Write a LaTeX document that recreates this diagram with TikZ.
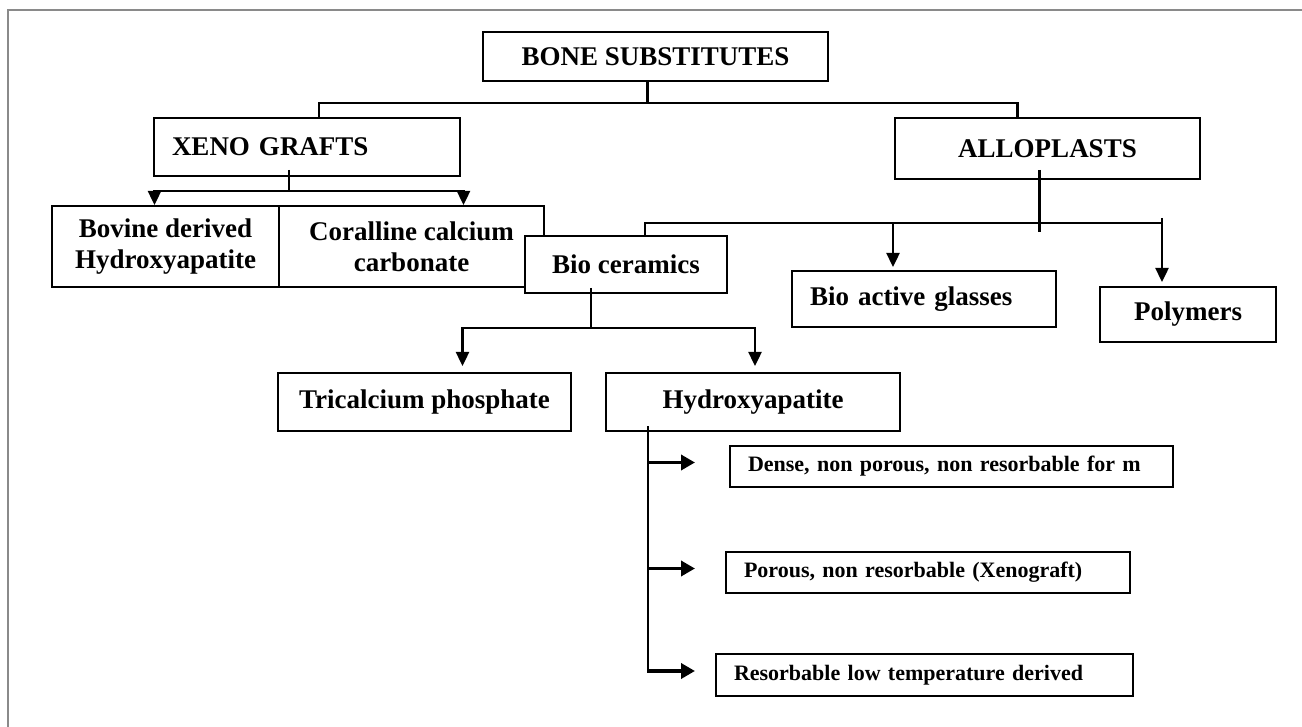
\documentclass[tikz,border=0pt]{standalone}
\usepackage{fontspec}
\setmainfont{Liberation Serif}
\usetikzlibrary{arrows.meta, positioning, calc}
\definecolor{colorMarco}{HTML}{8A8A8A}

\begin{document}
\begin{tikzpicture}[
        x=0.5pt, y=-0.5pt,
        caja/.style={draw, line width=1pt, fill=white, align=center, inner sep=0pt,
            font=\bfseries\fontsize{13.5}{15.5}\selectfont},
        chica/.style={font=\bfseries\fontsize{11}{13}\selectfont},
        izq/.style={text width=#1, align=left, inner xsep=9pt},
        lin/.style={line width=1.2pt},
        fle/.style={line width=1.2pt, -{Triangle[length=7pt, width=6.5pt]}},
        fleh/.style={line width=1.8pt, -{Triangle[length=7pt, width=7.5pt]}}
    ]
    \useasboundingbox (0,0) rectangle (1302,727);
    \draw[colorMarco, line width=1pt] (8,727) -- (8,10) -- (1302,10);

    \node[caja, minimum width=172.5pt, minimum height=24.5pt] (bone) at (655.5,56.5) {BONE SUBSTITUTES};
    \node[caja, izq=135pt, minimum height=29pt] (xeno) at (307,147) {XENO GRAFTS};
    \node[caja, minimum width=152.5pt, minimum height=30.5pt] (allo) at (1047.5,148.5) {ALLOPLASTS};
    \node[caja, minimum width=113.5pt, minimum height=40.5pt] (bovine) at (165.5,246.5) {Bovine derived\\Hydroxyapatite};
    \node[caja, minimum width=132.5pt, minimum height=40.5pt] (coral) at (411.5,246.5) {Coralline calcium\\carbonate};
    \node[caja, minimum width=101pt, minimum height=28.5pt] (bioc) at (626,264.5) {Bio ceramics};
    \node[caja, izq=114pt, minimum height=28pt] (bioglass) at (924,299) {Bio active glasses};
    \node[caja, minimum width=88pt, minimum height=27.5pt] (poly) at (1188,314.5) {Polymers};
    \node[caja, minimum width=146.5pt, minimum height=29pt] (trical) at (424.5,402) {Tricalcium phosphate};
    \node[caja, minimum width=147pt, minimum height=29pt] (hydroxy) at (753,402) {Hydroxyapatite};
    \node[caja, chica, izq=203.5pt, minimum height=20.5pt] (dense) at (951.5,466.5) {Dense, non porous, non resorbable for m};
    \node[caja, chica, izq=184pt, minimum height=20.5pt] (porous) at (928,572.5) {Porous, non resorbable (Xenograft)};
    \node[caja, chica, izq=190.5pt, minimum height=21pt] (resorb) at (924.5,675) {Resorbable low temperature derived};

    \draw[lin] ($(bone.south)+(-8,0)$) -- ++(0,21) coordinate (jr);
    \draw[lin] ($(xeno.north)+(12,0)$) |- (jr) -| ($(allo.north)+(-30,0)$);

    \coordinate (jx) at ($(xeno.south)+(-18,14)$);
    \draw[lin] ($(xeno.south)+(-18,-7)$) -- (jx);
    \draw[fle] (jx) -| ($(bovine.north)+(-11,0)$);
    \draw[fle] (jx) -| ($(coral.north)+(52,0)$);

    \draw[lin] ($(allo.south)+(-8,-10)$) -- ++(0,62);
    \draw[lin] ($(bioc.north)+(19,0)$) |- ($(poly.north)+(-26,-63)$);
    \draw[fle] ($(bioglass.north)+(-31,-47)$) -- ($(bioglass.north)+(-31,-3)$);
    \draw[fle] ($(poly.north)+(-26,-68)$) -- ($(poly.north)+(-26,-4)$);

    \coordinate (jb) at ($(bioc.south)+(-35,34)$);
    \draw[lin] ($(bioc.south)+(-35,-6)$) -- (jb);
    \draw[fle] (jb) -| ($(trical.north)+(38,-6)$);
    \draw[fle] (jb) -| ($(hydroxy.north)+(2,-6)$);

    \coordinate (jh) at ($(hydroxy.south)+(-105,-6)$);
    \draw[line width=1pt] (jh) -- ++(0,247);
    \foreach \n in {dense,porous,resorb}
        \draw[fleh] ($(jh |- \n.west)+(0,-4)$) -- ++(47,0);
\end{tikzpicture}
\end{document}
